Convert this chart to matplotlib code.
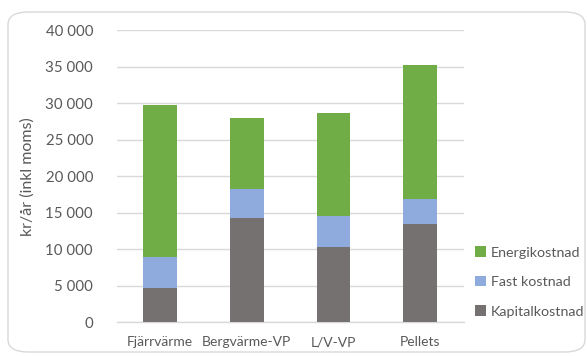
import matplotlib.pyplot as plt
import numpy as np
from matplotlib.patches import FancyBboxPatch

# === DATOS ===
categories = ["Fjärrvärme", "Bergvärme-VP", "L/V-VP", "Pellets"]
kapitalkostnad = [4750, 14250, 10350, 13500]
fast_kostnad = [4150, 3950, 4200, 3350]
energikostnad = [20900, 9700, 14150, 18300]

y_ticks = list(range(0, 40001, 5000))
y_labels = ["0" if v == 0 else f"{v // 1000} {v % 1000:03d}" for v in y_ticks]

colors = {"Kapitalkostnad": "#767171", "Fast kostnad": "#8FAADC", "Energikostnad": "#70AD47"}
text_color = "#595959"

plt.rcParams['font.family'] = ['Lato', 'DejaVu Sans']

fig = plt.figure(figsize=(5.87, 3.56), dpi=100)
W, H = 587, 356

# borde redondeado del grafico
border = FancyBboxPatch((8 / W, 4 / H), 577 / W, 340 / H,
                        boxstyle="round,pad=0,rounding_size=0.035",
                        transform=fig.transFigure, facecolor="white",
                        edgecolor="#D9D9D9", linewidth=1.0, zorder=-1)
fig.patches.append(border)

ax = fig.add_axes([116.7 / W, 1 - 322.3 / H, (463.7 - 116.7) / W, (322.3 - 30) / H])
ax.set_facecolor("none")

x = np.arange(len(categories))
w = 0.39
k = np.array(kapitalkostnad)
f = np.array(fast_kostnad)
e = np.array(energikostnad)
ax.bar(x, k, w, color=colors["Kapitalkostnad"], label="Kapitalkostnad", zorder=3)
ax.bar(x, f, w, bottom=k, color=colors["Fast kostnad"], label="Fast kostnad", zorder=3)
ax.bar(x, e, w, bottom=k + f, color=colors["Energikostnad"], label="Energikostnad", zorder=3)

ax.set_xlim(-0.5, 3.5)
ax.set_ylim(0, 40000)
ax.set_yticks(y_ticks)
ax.set_yticklabels(y_labels, fontsize=10.8, color=text_color)
ax.set_xticks(x)
ax.set_xticklabels(categories, fontsize=10, color=text_color)
ax.tick_params(axis="y", length=0, pad=17)
ax.tick_params(axis="x", length=0, pad=10)
ax.grid(axis="y", color="#D9D9D9", linewidth=1.0, zorder=0)
for s in ["top", "right", "left"]:
    ax.spines[s].set_visible(False)
ax.spines["bottom"].set_color("#D9D9D9")
ax.spines["bottom"].set_linewidth(1.0)

ax.set_ylabel("kr/år (inkl moms)", fontsize=11.5, color=text_color)
ax.yaxis.set_label_coords(-0.236, 0.5)

handles, labels = ax.get_legend_handles_labels()
leg = fig.legend(handles[::-1], labels[::-1], loc="center left",
                 bbox_to_anchor=(475 / W, 1 - 282 / H), frameon=False,
                 fontsize=10.3, labelcolor=text_color, handlelength=0.75,
                 handleheight=0.75, handletextpad=0.35, labelspacing=1.2,
                 borderaxespad=0, borderpad=0)

fig.savefig("out.png", dpi=100)
